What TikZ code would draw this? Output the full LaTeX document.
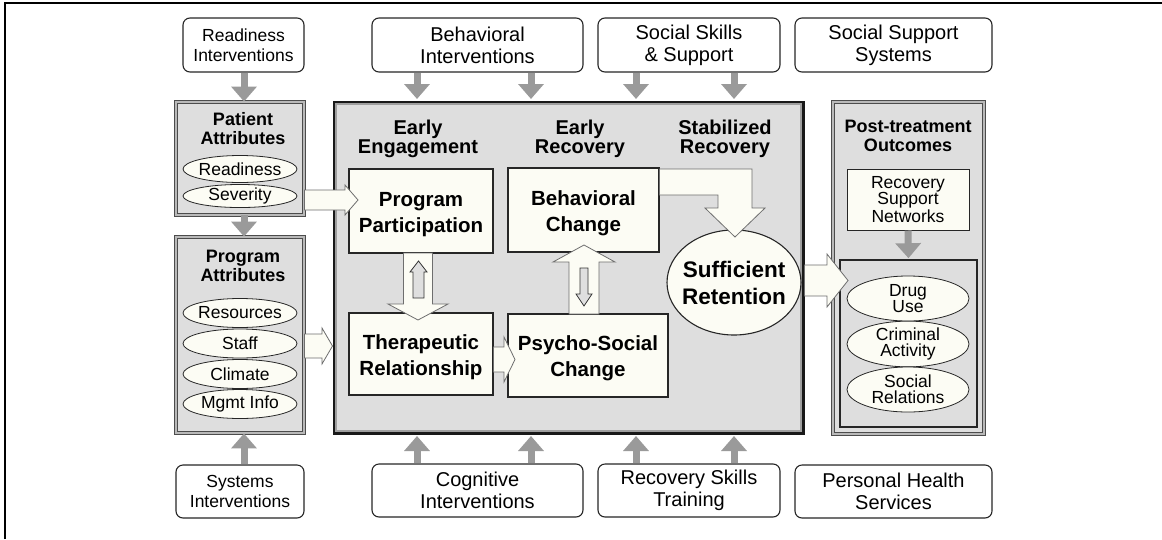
\documentclass[tikz,border=0pt]{standalone}
\usepackage{fontspec}
\setmainfont{Liberation Sans}
\usetikzlibrary{arrows.meta,shapes.geometric,calc}
\definecolor{boxgray}{HTML}{DEDEDE}
\definecolor{cream}{HTML}{FCFCF4}
\definecolor{arrgray}{HTML}{9A9A9A}
\definecolor{edgegray}{HTML}{6E6E6E}
\begin{document}
\begin{tikzpicture}[x=1pt,y=-1pt,
  intbox/.style={draw=black!85, line width=1.1pt, rounded corners=7pt, fill=white, align=center, inner sep=0pt, font=\fontsize{20}{22}\selectfont},
  intsmall/.style={intbox, font=\fontsize{17.5}{20}\selectfont},
  attrbox/.style={draw=black!70, line width=0.9pt, double=gray!55, double distance=1.3pt, fill=boxgray, inner sep=0pt},
  ttl/.style={font=\bfseries\fontsize{18}{19.5}\selectfont, align=center, inner sep=0pt},
  hdr/.style={font=\bfseries\fontsize{20}{19}\selectfont, align=center, inner sep=0pt},
  oval/.style={ellipse, draw=black!85, line width=0.8pt, fill=cream, inner sep=0pt, font=\fontsize{17.5}{16}\selectfont, align=center},
  stage/.style={draw=black!85, line width=1.1pt, fill=cream, inner sep=0pt},
  stext/.style={font=\bfseries\fontsize{20.5}{26}\selectfont, align=center, inner sep=0pt},
  garrow/.style={draw=arrgray, line width=7pt, -{Triangle[width=25pt,length=15pt]}},
  blockarr/.style={draw=edgegray, line width=0.8pt, fill=cream, line join=miter},
  smallarr/.style={draw=black!80, line width=0.8pt, fill=gray!25, line join=miter}
]
\useasboundingbox (0,0) rectangle (1162,539);
% outer frame (top and left edges)
\draw[line width=2pt] (5,539) -- (5,3) -- (1162,3);

% intervention boxes
\node[intsmall, minimum width=121, minimum height=54] (ri) at (243.5,45) {Readiness\\Interventions};
\node[intbox, minimum width=211, minimum height=54] (bi) at (477.5,45) {Behavioral\\Interventions};
\node[intbox, minimum width=182, minimum height=54] (ss) at (689,45) {Social Skills\\\&\ Support};
\node[intbox, minimum width=197, minimum height=54] (sss) at (893.5,45) {Social Support\\Systems};
\node[intsmall, minimum width=128, minimum height=53] (si) at (240,491.5) {Systems\\Interventions};
\node[intbox, minimum width=211, minimum height=53] (ci) at (477.5,490.5) {Cognitive\\Interventions};
\node[intbox, minimum width=182, minimum height=53] (rst) at (689,490.5) {Recovery Skills\\Training};
\node[intbox, minimum width=197, minimum height=53] (phs) at (893.5,491.5) {Personal Health\\Services};

% patient attributes
\node[attrbox, minimum width=128, minimum height=113] (pa) at (240,158.5) {};
\node[ttl] (pat) at (243,128.5) {Patient\\Attributes};
\node[oval, inner xsep=-4pt, minimum width=114, minimum height=27] (rd) at (240,169) {Readiness};
\node[oval, inner xsep=-4pt, minimum width=114, minimum height=23] (sv) at (240,196) {Severity};

% program attributes
\node[attrbox, minimum width=128, minimum height=196] (pr) at (240,335) {};
\node[ttl] (prt) at (243,266) {Program\\Attributes};
\node[oval, inner xsep=-4pt, minimum width=114, minimum height=29] (res) at (240,313) {Resources};
\node[oval, inner xsep=-4pt, minimum width=114, minimum height=29] (stf) at (240,343.5) {Staff};
\node[oval, inner xsep=-4pt, minimum width=114, minimum height=29] (clm) at (240,374) {Climate};
\node[oval, inner xsep=-4pt, minimum width=114, minimum height=29] (mgi) at (240,404) {Mgmt Info};

% main treatment box
\node[draw=black!90, line width=3pt, fill=boxgray, minimum width=469, minimum height=331, inner sep=0pt] (main) at (568.5,267.5) {};
\draw[gray!75, line width=1.2pt] ($(main.north west)+(3.5,3.5)$) rectangle ($(main.south east)+(-3.5,-3.5)$);
\node[hdr] (h1) at (418,139) {Early\\Engagement};
\node[hdr] (h2) at (580,139) {Early\\Recovery};
\node[hdr] (h3) at (725,139) {Stabilized\\Recovery};

\node[stage, minimum width=144, minimum height=84] (pp) at (421,211) {};
\node[stext] (ppt) at ($(pp.center)+(0,4)$) {Program\\Participation};
\node[stage, minimum width=151, minimum height=84] (bc) at (583.5,210) {};
\node[stext] (bct) at ($(bc.center)+(0,3.5)$) {Behavioral\\Change};
\node[stage, minimum width=144, minimum height=82] (tr) at (421,354) {};
\node[stext] (trt) at ($(tr.center)+(0,3)$) {Therapeutic\\Relationship};
\node[stage, minimum width=160, minimum height=83] (psc) at (588,355.5) {};
\node[stext] (psct) at ($(psc.center)+(0,2.5)$) {Psycho-Social\\Change};
\node[ellipse, draw=black!85, line width=1.1pt, fill=cream, inner sep=0pt, inner xsep=-6pt, minimum width=134, minimum height=105, font=\bfseries\fontsize{22.5}{27}\selectfont, align=center] (sr) at (734,282.5) {Sufficient\\Retention};

% post-treatment outcomes
\node[attrbox, minimum width=151, minimum height=332] (po) at (908.5,268) {};
\node[ttl] (pot) at (908,136) {Post-treatment\\Outcomes};
\node[draw=black!85, line width=1pt, fill=cream, minimum width=122, minimum height=61, inner sep=0pt, align=center, font=\fontsize{17.5}{16}\selectfont] (rsn) at (908,199.5) {Recovery\\Support\\Networks};
\node[draw=black!85, line width=1.6pt, fill=boxgray, minimum width=137, minimum height=167, inner sep=0pt] (oin) at (908.5,343.5) {};
\node[oval, minimum width=122, minimum height=45] (du) at (908,298.5) {Drug\\Use};
\node[oval, minimum width=122, minimum height=44] (ca) at (908,344) {Criminal\\Activity};
\node[oval, minimum width=122, minimum height=45] (so) at (908,389.5) {Social\\Relations};

% block arrows
\draw[blockarr] (pa.east |- 0,190) -- (345,190) -- (345,185) -- (358,200) -- (345,215) -- (345,210) -- (pa.east |- 0,210) -- cycle;
\draw[blockarr] (pr.east |- 0,334) -- (322,334) -- (322,328) -- (main.west |- 0,346) -- (322,364) -- (322,358) -- (pr.east |- 0,358) -- cycle;
% PP <-> TR
\draw[blockarr] (403.5,253) -- (432.5,253) -- (432.5,304) -- (448,304) -- (418,320) -- (388,304) -- (403.5,304) -- cycle;
\draw[smallarr] (413,298) -- (413,272) -- (410,272) -- (418.5,261) -- (427,272) -- (424,272) -- (424,298) -- cycle;
% PSC <-> BC
\draw[blockarr] (569,314) -- (569,262) -- (553,262) -- (584,245) -- (615,262) -- (599,262) -- (599,314) -- cycle;
\draw[smallarr] (580,268) -- (588,268) -- (588,294) -- (592,294) -- (584,306) -- (576,294) -- (580,294) -- cycle;
% TR -> PSC
\draw[blockarr] (tr.east |- 0,347) -- (504,347) -- (504,337) -- (515,359.5) -- (504,382) -- (504,372) -- (tr.east |- 0,372) -- cycle;
% BC -> SR
\draw[blockarr] (bc.east |- 0,169) -- (752,169) -- (752,208) -- (765,208) -- (735,237) -- (705,208) -- (718,208) -- (718,195) -- (bc.east |- 0,195) -- cycle;
% SR -> outcomes
\draw[blockarr] (804.5,265) -- (827,265) -- (827,254) -- (848,280.5) -- (827,307) -- (827,296) -- (804.5,296) -- cycle;

% gray arrows
\draw[garrow] (ri.south -| 244,0) -- (pa.north -| 244,0);
\draw[garrow] (pa.south -| 244,0) -- (pr.north -| 244,0);
\draw[garrow] (si.north -| 244,0) -- (pr.south -| 244,0);
\draw[garrow, shorten >=1.5pt] (bi.south -| 417,0) -- (main.north -| 417,0);
\draw[garrow, shorten >=1.5pt] (bi.south -| 531,0) -- (main.north -| 531,0);
\draw[garrow, shorten >=1.5pt] (ss.south -| 636,0) -- (main.north -| 636,0);
\draw[garrow, shorten >=1.5pt] (ss.south -| 734,0) -- (main.north -| 734,0);
\draw[garrow, shorten >=1.5pt] (ci.north -| 417,0) -- (main.south -| 417,0);
\draw[garrow, shorten >=1.5pt] (ci.north -| 531,0) -- (main.south -| 531,0);
\draw[garrow, shorten >=1.5pt] (rst.north -| 636,0) -- (main.south -| 636,0);
\draw[garrow, shorten >=1.5pt] (rst.north -| 734,0) -- (main.south -| 734,0);
\draw[garrow, shorten >=1pt] (rsn.south) -- (oin.north);
\end{tikzpicture}
\end{document}
